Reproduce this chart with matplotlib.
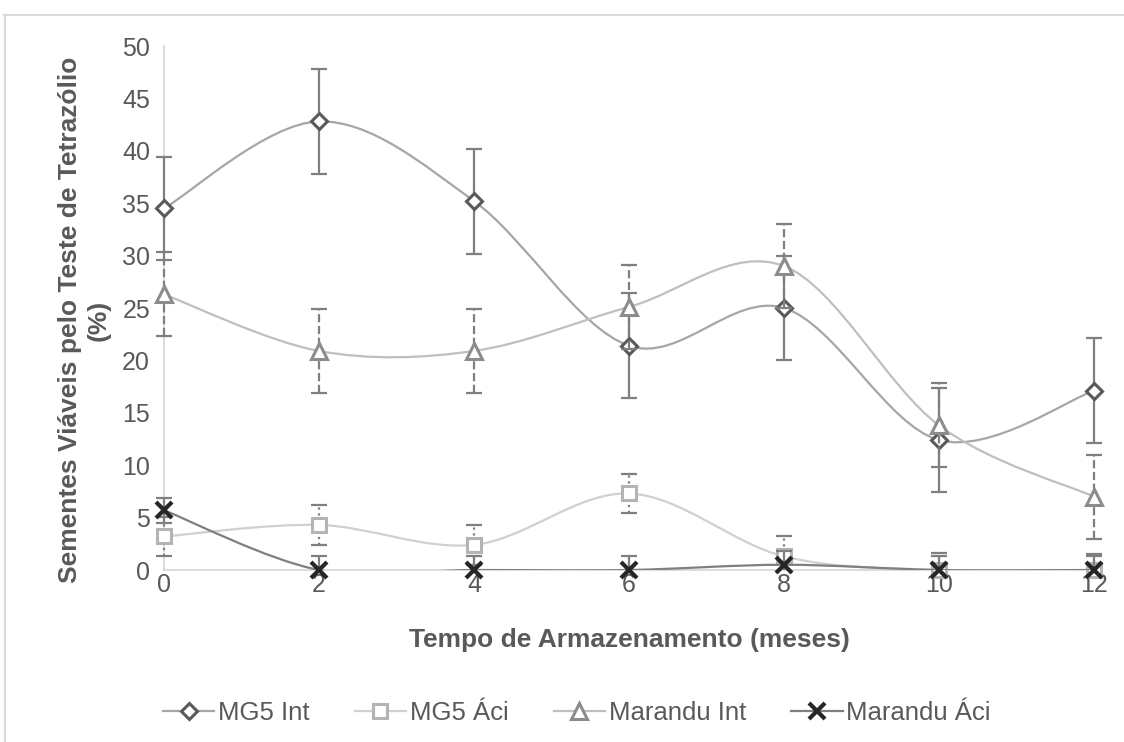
import numpy as np
import matplotlib.pyplot as plt
from matplotlib.path import Path
from matplotlib.patches import PathPatch, Rectangle
from matplotlib.lines import Line2D

plt.rcParams['font.family'] = ['Liberation Sans', 'DejaVu Sans']

meses = [0, 2, 4, 6, 8, 10, 12]

mg5_int = [34.5, 42.8, 35.2, 21.4, 25.0, 12.4, 17.1]
mg5_int_err = [4.9, 5.0, 5.0, 5.0, 5.0, 5.0, 5.0]

mg5_aci = [3.2, 4.3, 2.4, 7.3, 1.3, 0.0, 0.0]
mg5_aci_err = [1.9, 1.9, 1.9, 1.9, 1.9, 1.6, 1.5]

marandu_int = [26.3, 20.9, 20.9, 25.1, 29.0, 13.8, 7.0]
marandu_int_err = [4.0, 4.0, 4.0, 4.0, 4.0, 4.0, 4.0]

marandu_aci = [5.7, 0.0, 0.0, 0.0, 0.5, 0.0, 0.0]
marandu_aci_err = [1.2, 1.3, 1.3, 1.3, 1.3, 1.3, 1.3]

labels = ['MG5 Int', 'MG5 Áci', 'Marandu Int', 'Marandu Áci']
tick_color = '#595959'


def smooth_path(x, y):
    # cubic bezier segments through the points (same idea as excel's smoothed line)
    pts = np.column_stack([x, y]).astype(float)
    n = len(pts)
    verts = [pts[0]]
    codes = [Path.MOVETO]
    for i in range(n - 1):
        p0 = pts[max(i - 1, 0)]
        p1 = pts[i]
        p2 = pts[i + 1]
        p3 = pts[min(i + 2, n - 1)]
        verts += [p1 + (p2 - p0) / 6, p2 - (p3 - p1) / 6, p2]
        codes += [Path.CURVE4] * 3
    return Path(verts, codes)


fig = plt.figure(figsize=(11.24, 7.42), dpi=100)
ax = fig.add_axes([164 / 1124, 1 - 570 / 742, (1094 - 164) / 1124, (570 - 46) / 742])
ax.set_xlim(0, 12)
ax.set_ylim(0, 50)

# clip everything at y=0 but let caps/lines reach past the left and right edges
clip_rect = Rectangle((-1, 0), 14, 60, transform=ax.transData, visible=False)
ax.add_patch(clip_rect)

series = [
    # values, errors, line colour, marker, marker colour, marker size, error style
    (mg5_int, mg5_int_err, '#a6a6a6', 'D', '#595959', 8.5, '-'),
    (mg5_aci, mg5_aci_err, '#d0d0d0', 's', '#b4b4b4', 10, ':'),
    (marandu_int, marandu_int_err, '#bfbfbf', '^', '#8c8c8c', 11, '--'),
    (marandu_aci, marandu_aci_err, '#7f7f7f', 'x', '#262626', 11, '-'),
]

handles = []
for k, (vals, errs, lc, mk, mc, ms, es) in enumerate(series):
    z = 3 + k
    curve = ax.add_patch(PathPatch(smooth_path(meses, vals), fill=False, edgecolor=lc,
                                   lw=1.6, zorder=z))
    curve.set_clip_path(clip_rect)
    eb = ax.errorbar(meses, vals, yerr=errs, fmt='none', ecolor='#7f7f7f',
                     elinewidth=1.6, capsize=6, capthick=1.6, zorder=z)
    eb[2][0].set_linestyle(es)
    eb[2][0].set_clip_path(clip_rect)
    for cap in eb[1]:
        cap.set_clip_path(clip_rect)
    mew = 3 if mk == 'x' else 2.2
    mfc = mc if mk == 'x' else 'white'
    ax.plot(meses, vals, ls='none', marker=mk, ms=ms, mfc=mfc,
            mec=mc, mew=mew, zorder=z + 0.5, clip_on=False)
    handles.append(Line2D([], [], color=lc, lw=1.6, marker=mk, ms=ms,
                          mfc=mfc, mec=mc, mew=mew))

ax.set_xticks(meses)
ax.set_yticks(range(0, 51, 5))
ax.tick_params(length=0, labelsize=18, labelcolor=tick_color)
ax.tick_params(axis='y', pad=10)
ax.tick_params(axis='x', pad=2)
for s in ['top', 'right']:
    ax.spines[s].set_visible(False)
for s in ['left', 'bottom']:
    ax.spines[s].set_color('#d9d9d9')
    ax.spines[s].set_linewidth(1.3)

ax.set_ylabel('Sementes Viáveis pelo Teste de Tetrazólio\n(%)', fontsize=19,
              fontweight='bold', color=tick_color, linespacing=1.25)
ax.yaxis.set_label_coords((84 - 164) / 930, (570 - 320) / 524)
ax.set_xlabel('Tempo de Armazenamento (meses)', fontsize=19, fontweight='bold',
              color=tick_color)
ax.xaxis.set_label_coords(0.5, (570 - 640) / 524)
ax.xaxis.label.set_va('center')
ax.yaxis.label.set_va('center')

fig.legend(handles, labels, loc='center', bbox_to_anchor=(577 / 1124, 1 - 713 / 742),
           ncol=4, frameon=False, fontsize=18.5, labelcolor=tick_color,
           handlelength=2.0, handletextpad=0.15, columnspacing=1.75)

# chart area border
fig.add_artist(Line2D([4 / 1124, 1], [1 - 15 / 742] * 2, color='#d9d9d9', lw=1.5))
fig.add_artist(Line2D([5 / 1124] * 2, [0, 1 - 15 / 742], color='#d9d9d9', lw=1.5))

fig.savefig('out.png', dpi=100)
